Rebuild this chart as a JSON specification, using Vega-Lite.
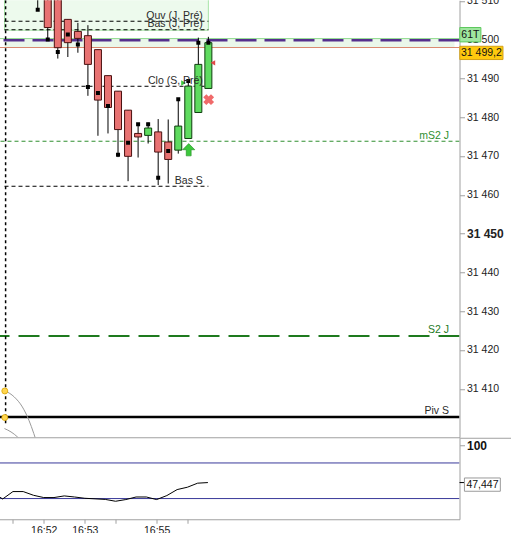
{
  "$schema": "https://vega.github.io/schema/vega-lite/v6.json",
  "padding": {"top": -4.75, "left": -0.5, "right": 0, "bottom": 0},
  "background": "white",
  "spacing": 0,
  "config": {"font": "Liberation Sans", "view": {"stroke": null}, "axis": {"grid": false}},
  "datasets": {
    "candles": [
      {"i": 0, "o": 31518, "h": 31520, "l": 31507.7, "c": 31512, "m": 31507.7, "dir": "down"},
      {"i": 1, "o": 31514, "h": 31516, "l": 31500.1, "c": 31503.1, "m": 31500.0, "dir": "down"},
      {"i": 2, "o": 31512, "h": 31514, "l": 31495.1, "c": 31497.9, "m": 31496.8, "dir": "down"},
      {"i": 3, "o": 31505.2, "h": 31505.2, "l": 31495.5, "c": 31499.2, "m": 31501.3, "dir": "down"},
      {"i": 4, "o": 31502.1, "h": 31504.3, "l": 31496.6, "c": 31500.3, "m": 31498.7, "dir": "down"},
      {"i": 5, "o": 31501.0, "h": 31503.7, "l": 31485.5, "c": 31493.6, "m": 31487.8, "dir": "down"},
      {"i": 6, "o": 31497.4, "h": 31497.4, "l": 31475.2, "c": 31484.4, "m": 31486.2, "dir": "down"},
      {"i": 7, "o": 31490.7, "h": 31490.7, "l": 31475.8, "c": 31482.5, "m": 31482.9, "dir": "down"},
      {"i": 8, "o": 31486.7, "h": 31486.7, "l": 31469.7, "c": 31476.8, "m": 31470.3, "dir": "down"},
      {"i": 9, "o": 31481.8, "h": 31481.8, "l": 31463.5, "c": 31469.9, "m": 31473.4, "dir": "down"},
      {"i": 10, "o": 31475.8, "h": 31478.2, "l": 31469.6, "c": 31474.9, "m": 31478.2, "dir": "down"},
      {"i": 11, "o": 31475.3, "h": 31478.6, "l": 31473.2, "c": 31477.2, "m": 31478.2, "dir": "up"},
      {"i": 12, "o": 31476.2, "h": 31479.5, "l": 31462.5, "c": 31471.0, "m": 31464.4, "dir": "down"},
      {"i": 13, "o": 31473.6, "h": 31479.4, "l": 31462.9, "c": 31469.1, "m": 31471.3, "dir": "down"},
      {"i": 14, "o": 31471.5, "h": 31484.6, "l": 31470.6, "c": 31477.7, "m": 31484.6, "dir": "up"},
      {"i": 15, "o": 31474.5, "h": 31489.3, "l": 31474.5, "c": 31488.0, "m": 31489.3, "dir": "up"},
      {"i": 16, "o": 31481.2, "h": 31500.5, "l": 31481.2, "c": 31493.6, "m": 31499.2, "dir": "up"},
      {"i": 17, "o": 31487.4, "h": 31500.7, "l": 31487.4, "c": 31499.2, "m": 31499.2, "dir": "up"}
    ],
    "levelsShort": [
      {"name": "Ouv (J, Pré)", "i": -3.31, "i2": 17, "p": 31504.72},
      {"name": "Bas (J, Pré)", "i": -3.31, "i2": 17, "p": 31502.53},
      {"name": "Clo (S, Pré)", "i": -3.31, "i2": 17, "p": 31487.96},
      {"name": "Bas S", "i": -3.31, "i2": 17, "p": 31462.19}
    ],
    "labels": [
      {"label": "Ouv (J, Pré)", "i": 17, "p": 31504.72, "kind": "black"},
      {"label": "Bas (J, Pré)", "i": 17, "p": 31502.53, "kind": "black"},
      {"label": "Clo (S, Pré)", "i": 17, "p": 31487.96, "kind": "black"},
      {"label": "Bas S", "i": 17, "p": 31462.19, "kind": "black"},
      {"label": "mS2 J", "i": 41.52, "p": 31473.79, "kind": "green"},
      {"label": "S2 J", "i": 41.52, "p": 31423.61, "kind": "darkgreen"},
      {"label": "Piv S", "i": 41.52, "p": 31402.73, "kind": "black"}
    ],
    "arcs": [
      {"arc": "a", "i": -3.216, "p": 31409.43},
      {"arc": "a", "i": -2.339, "p": 31407.89},
      {"arc": "a", "i": -1.53, "p": 31405.31},
      {"arc": "a", "i": -0.877, "p": 31401.88},
      {"arc": "a", "i": -0.39, "p": 31398.45},
      {"arc": "a", "i": -0.224, "p": 31397.16},
      {"arc": "b", "i": -3.314, "p": 31399.74},
      {"arc": "b", "i": -2.661, "p": 31398.87},
      {"arc": "b", "i": -2.018, "p": 31397.58},
      {"arc": "b", "i": -1.852, "p": 31397.16}
    ],
    "rsi": [
      {"i": -3.31, "v": 27.2}, {"i": -3, "v": 24.4}, {"i": -2, "v": 34.8}, {"i": -1, "v": 34.8},
      {"i": 0, "v": 29.6}, {"i": 1, "v": 26.4}, {"i": 2, "v": 26.4}, {"i": 3, "v": 28.7},
      {"i": 4, "v": 27.2}, {"i": 5, "v": 25.4}, {"i": 6, "v": 24.6}, {"i": 7, "v": 23.8},
      {"i": 8, "v": 21.2}, {"i": 9, "v": 23.6}, {"i": 10, "v": 27.2}, {"i": 11, "v": 27.2},
      {"i": 12, "v": 23.6}, {"i": 13, "v": 29.2}, {"i": 14, "v": 37.6}, {"i": 15, "v": 40.9},
      {"i": 16, "v": 46.6}, {"i": 17, "v": 47.447}
    ]
  },
  "vconcat": [
    {
      "width": 460,
      "height": 437,
      "layer": [
        {
          "data": {"values": [{"i": -3.31, "i2": 17, "p": 31515, "p2": 31502.4}]},
          "mark": {"type": "rect", "fill": "#EDFAED", "stroke": "#A8E4A8", "strokeWidth": 1, "clip": true},
          "encoding": {
            "x": {"field": "i", "type": "quantitative", "scale": {"domain": [-3.31, 41.52], "nice": false, "zero": false},
                  "axis": {"title": null, "labels": false, "ticks": false, "domain": true, "domainColor": "#A0A0A0", "grid": false}},
            "x2": {"field": "i2"},
            "y": {"field": "p", "type": "quantitative", "scale": {"domain": [31397.5, 31510.13], "nice": false, "zero": false},
                  "axis": {"title": null, "orient": "right", "values": [31410, 31420, 31430, 31440, 31450, 31460, 31470, 31480, 31490, 31500, 31510],
                           "labelExpr": "replace(format(datum.value, ',d'), ',', ' ')", "grid": false,
                           "domainColor": "#A0A0A0", "tickColor": "#A0A0A0", "tickSize": 5, "labelPadding": 2,
                           "labelColor": "#222222", "labelOverlap": false,
                           "labelFontSize": {"condition": {"test": "datum.value == 31450", "value": 12}, "value": 10.5},
                           "labelFontWeight": {"condition": {"test": "datum.value == 31450", "value": "bold"}, "value": "normal"}}},
            "y2": {"field": "p2"}
          }
        },
        {
          "data": {"values": [{"i": -3.31, "i2": 41.52, "p": 31500.25, "p2": 31497.95}]},
          "mark": {"type": "rect", "fill": "#EAF7EA", "clip": true},
          "encoding": {
            "x": {"field": "i", "type": "quantitative", "scale": {"domain": [-3.31, 41.52], "nice": false, "zero": false}},
            "x2": {"field": "i2"},
            "y": {"field": "p", "type": "quantitative", "scale": {"domain": [31397.5, 31510.13], "nice": false, "zero": false}},
            "y2": {"field": "p2"}
          }
        },
        {
          "data": {"values": [{"p": 31500.25}]},
          "mark": {"type": "rule", "color": "#8FD98F", "strokeWidth": 1, "clip": true},
          "encoding": {"y": {"field": "p", "type": "quantitative", "scale": {"domain": [31397.5, 31510.13], "nice": false, "zero": false}}}
        },
        {
          "data": {"values": [{"p": 31497.95}]},
          "mark": {"type": "rule", "color": "#D98A70", "strokeWidth": 1, "clip": true},
          "encoding": {"y": {"field": "p", "type": "quantitative", "scale": {"domain": [31397.5, 31510.13], "nice": false, "zero": false}}}
        },
        {
          "data": {"name": "levelsShort"},
          "mark": {"type": "rule", "color": "#000000", "strokeWidth": 1, "strokeDash": [4, 3], "clip": true},
          "encoding": {
            "x": {"field": "i", "type": "quantitative", "scale": {"domain": [-3.31, 41.52], "nice": false, "zero": false}},
            "x2": {"field": "i2"},
            "y": {"field": "p", "type": "quantitative", "scale": {"domain": [31397.5, 31510.13], "nice": false, "zero": false}}
          }
        },
        {
          "data": {"values": [{"p": 31473.79}]},
          "mark": {"type": "rule", "color": "#2F8F2F", "strokeWidth": 1, "strokeDash": [4, 3], "clip": true},
          "encoding": {"y": {"field": "p", "type": "quantitative", "scale": {"domain": [31397.5, 31510.13], "nice": false, "zero": false}}}
        },
        {
          "data": {"values": [{"p": 31423.61}]},
          "mark": {"type": "rule", "color": "#1E7A1E", "strokeWidth": 2, "strokeDash": [21, 9], "clip": true},
          "encoding": {"y": {"field": "p", "type": "quantitative", "scale": {"domain": [31397.5, 31510.13], "nice": false, "zero": false}}}
        },
        {
          "data": {"values": [{"p": 31402.73}]},
          "mark": {"type": "rule", "color": "#000000", "strokeWidth": 2.5, "clip": true},
          "encoding": {"y": {"field": "p", "type": "quantitative", "scale": {"domain": [31397.5, 31510.13], "nice": false, "zero": false}}}
        },
        {
          "data": {"values": [{"p": 31499.82}]},
          "mark": {"type": "rule", "color": "#55308D", "strokeWidth": 2.5, "strokeDash": [21, 8], "clip": true},
          "encoding": {"y": {"field": "p", "type": "quantitative", "scale": {"domain": [31397.5, 31510.13], "nice": false, "zero": false}}}
        },
        {
          "data": {"values": [{"i": -3.2, "p": 31401.1, "p2": 31512}]},
          "mark": {"type": "rule", "color": "#000000", "strokeWidth": 1.5, "strokeDash": [3, 3], "clip": true},
          "encoding": {
            "x": {"field": "i", "type": "quantitative", "scale": {"domain": [-3.31, 41.52], "nice": false, "zero": false}},
            "y": {"field": "p", "type": "quantitative", "scale": {"domain": [31397.5, 31510.13], "nice": false, "zero": false}},
            "y2": {"field": "p2"}
          }
        },
        {
          "data": {"name": "arcs"},
          "mark": {"type": "line", "color": "#9A9A9A", "strokeWidth": 1, "interpolate": "monotone", "clip": true},
          "encoding": {
            "x": {"field": "i", "type": "quantitative", "scale": {"domain": [-3.31, 41.52], "nice": false, "zero": false}},
            "y": {"field": "p", "type": "quantitative", "scale": {"domain": [31397.5, 31510.13], "nice": false, "zero": false}},
            "detail": {"field": "arc", "type": "nominal"}
          }
        },
        {
          "data": {"values": [{"i": -3.28, "p": 31409.43}, {"i": -3.28, "p": 31402.58}]},
          "mark": {"type": "point", "filled": true, "fill": "#FFD54F", "stroke": "#D9A400", "strokeWidth": 0.8, "size": 36, "opacity": 1, "clip": true},
          "encoding": {
            "x": {"field": "i", "type": "quantitative", "scale": {"domain": [-3.31, 41.52], "nice": false, "zero": false}},
            "y": {"field": "p", "type": "quantitative", "scale": {"domain": [31397.5, 31510.13], "nice": false, "zero": false}}
          }
        },
        {
          "data": {"name": "candles"},
          "mark": {"type": "rule", "color": "#000000", "strokeWidth": 1, "clip": true},
          "encoding": {
            "x": {"field": "i", "type": "quantitative", "scale": {"domain": [-3.31, 41.52], "nice": false, "zero": false}},
            "y": {"field": "l", "type": "quantitative", "scale": {"domain": [31397.5, 31510.13], "nice": false, "zero": false}},
            "y2": {"field": "h"}
          }
        },
        {
          "data": {"name": "candles"},
          "mark": {"type": "bar", "width": 7, "strokeWidth": 1, "clip": true, "opacity": 1},
          "encoding": {
            "x": {"field": "i", "type": "quantitative", "scale": {"domain": [-3.31, 41.52], "nice": false, "zero": false}},
            "y": {"field": "o", "type": "quantitative", "scale": {"domain": [31397.5, 31510.13], "nice": false, "zero": false}},
            "y2": {"field": "c"},
            "fill": {"field": "dir", "type": "nominal", "scale": {"domain": ["up", "down"], "range": ["#5FDB5F", "#E87272"]}, "legend": null},
            "stroke": {"field": "dir", "type": "nominal", "scale": {"domain": ["up", "down"], "range": ["#0F3F0F", "#4A1010"]}, "legend": null}
          }
        },
        {
          "data": {"name": "candles"},
          "mark": {"type": "point", "shape": "square", "filled": true, "color": "#000000", "size": 16, "opacity": 1, "clip": true},
          "encoding": {
            "x": {"field": "i", "type": "quantitative", "scale": {"domain": [-3.31, 41.52], "nice": false, "zero": false}},
            "y": {"field": "m", "type": "quantitative", "scale": {"domain": [31397.5, 31510.13], "nice": false, "zero": false}}
          }
        },
        {
          "data": {"values": [{"i": 15.04, "p": 31471.6}]},
          "mark": {"type": "point", "shape": "M0,-1L1,0L0.4,0L0.4,1L-0.4,1L-0.4,0L-1,0Z", "filled": true, "fill": "#3CC83C", "stroke": "#1E8C1E", "strokeWidth": 0.6, "size": 150, "opacity": 1},
          "encoding": {
            "x": {"field": "i", "type": "quantitative", "scale": {"domain": [-3.31, 41.52], "nice": false, "zero": false}},
            "y": {"field": "p", "type": "quantitative", "scale": {"domain": [31397.5, 31510.13], "nice": false, "zero": false}}
          }
        },
        {
          "data": {"values": [{"i": 17.03, "p": 31484.5}]},
          "mark": {"type": "point", "shape": "cross", "angle": 45, "filled": true, "fill": "#F06A6A", "size": 120, "opacity": 1},
          "encoding": {
            "x": {"field": "i", "type": "quantitative", "scale": {"domain": [-3.31, 41.52], "nice": false, "zero": false}},
            "y": {"field": "p", "type": "quantitative", "scale": {"domain": [31397.5, 31510.13], "nice": false, "zero": false}}
          }
        },
        {
          "data": {"values": [{"i": 17.45, "p": 31494.0}]},
          "mark": {"type": "point", "shape": "triangle-left", "filled": true, "fill": "#E04848", "size": 28, "opacity": 1},
          "encoding": {
            "x": {"field": "i", "type": "quantitative", "scale": {"domain": [-3.31, 41.52], "nice": false, "zero": false}},
            "y": {"field": "p", "type": "quantitative", "scale": {"domain": [31397.5, 31510.13], "nice": false, "zero": false}}
          }
        },
        {
          "data": {"values": [{"i": 14.52, "p": 31488.8}]},
          "mark": {"type": "point", "shape": "triangle-right", "filled": true, "fill": "#3CC83C", "size": 28, "opacity": 1},
          "encoding": {
            "x": {"field": "i", "type": "quantitative", "scale": {"domain": [-3.31, 41.52], "nice": false, "zero": false}},
            "y": {"field": "p", "type": "quantitative", "scale": {"domain": [31397.5, 31510.13], "nice": false, "zero": false}}
          }
        },
        {
          "data": {"name": "labels"},
          "mark": {"type": "text", "align": "right", "baseline": "alphabetic", "dx": -5.5, "dy": -2.5, "fontSize": 10.5},
          "encoding": {
            "x": {"field": "i", "type": "quantitative", "scale": {"domain": [-3.31, 41.52], "nice": false, "zero": false}},
            "y": {"field": "p", "type": "quantitative", "scale": {"domain": [31397.5, 31510.13], "nice": false, "zero": false}},
            "text": {"field": "label"},
            "color": {"field": "kind", "type": "nominal", "scale": {"domain": ["black", "green", "darkgreen"], "range": ["#2A2A2A", "#2F8F2F", "#1E7A1E"]}, "legend": null}
          }
        },
        {
          "data": {"values": [{"i": 42.05, "i2": 44.15, "p": 31503.1, "p2": 31499.4}]},
          "mark": {"type": "rect", "fill": "#9FE69F", "stroke": "#5CC85C", "strokeWidth": 1},
          "encoding": {
            "x": {"field": "i", "type": "quantitative", "scale": {"domain": [-3.31, 41.52], "nice": false, "zero": false}},
            "x2": {"field": "i2"},
            "y": {"field": "p", "type": "quantitative", "scale": {"domain": [31397.5, 31510.13], "nice": false, "zero": false}},
            "y2": {"field": "p2"}
          }
        },
        {
          "data": {"values": [{"i": 42.05, "i2": 46.35, "p": 31498.27, "p2": 31494.85}]},
          "mark": {"type": "rect", "fill": "#FFC90E", "stroke": "#D4A017", "strokeWidth": 1},
          "encoding": {
            "x": {"field": "i", "type": "quantitative", "scale": {"domain": [-3.31, 41.52], "nice": false, "zero": false}},
            "x2": {"field": "i2"},
            "y": {"field": "p", "type": "quantitative", "scale": {"domain": [31397.5, 31510.13], "nice": false, "zero": false}},
            "y2": {"field": "p2"}
          }
        },
        {
          "data": {"values": [{"t": "61T", "i": 43.1, "p": 31501.25}, {"t": "31 499,2", "i": 44.2, "p": 31496.56}]},
          "mark": {"type": "text", "align": "center", "baseline": "middle", "fontSize": 10.5, "color": "#111111"},
          "encoding": {
            "x": {"field": "i", "type": "quantitative", "scale": {"domain": [-3.31, 41.52], "nice": false, "zero": false}},
            "y": {"field": "p", "type": "quantitative", "scale": {"domain": [31397.5, 31510.13], "nice": false, "zero": false}},
            "text": {"field": "t"}
          }
        }
      ]
    },
    {
      "width": 460,
      "height": 81,
      "layer": [
        {
          "data": {"values": [{"v": 75}, {"v": 25}]},
          "mark": {"type": "rule", "color": "#3A3A9A", "strokeWidth": 1, "clip": true},
          "encoding": {
            "y": {"field": "v", "type": "quantitative", "scale": {"domain": [-4.07, 109.7], "nice": false, "zero": false},
                  "axis": {"title": null, "orient": "right", "values": [100], "grid": false, "domainColor": "#A0A0A0", "tickColor": "#A0A0A0",
                           "tickSize": 5, "labelPadding": 2, "labelColor": "#111111", "labelFontSize": 12, "labelFontWeight": "bold", "labelOverlap": false}}
          }
        },
        {
          "data": {"name": "rsi"},
          "mark": {"type": "line", "color": "#000000", "strokeWidth": 1, "clip": true},
          "encoding": {
            "x": {"field": "i", "type": "quantitative", "scale": {"domain": [-3.31, 41.52], "nice": false, "zero": false},
                  "axis": {"title": null, "orient": "bottom", "values": [-2, 1, 5, 8, 12, 15],
                           "labelExpr": "datum.value == 1 ? '16:52' : datum.value == 5 ? '16:53' : datum.value == 12 ? '16:55' : ''",
                           "grid": false, "domainColor": "#A0A0A0", "tickColor": "#A0A0A0", "tickSize": 4, "labelPadding": 2,
                           "labelColor": "#222222", "labelFontSize": 10.5, "labelFlush": false, "labelOverlap": false}},
            "y": {"field": "v", "type": "quantitative", "scale": {"domain": [-4.07, 109.7], "nice": false, "zero": false}}
          }
        },
        {
          "data": {"values": [{"i": 41.52, "i2": 47, "v": 109.7}]},
          "mark": {"type": "rule", "color": "#A0A0A0", "strokeWidth": 1},
          "encoding": {
            "x": {"field": "i", "type": "quantitative", "scale": {"domain": [-3.31, 41.52], "nice": false, "zero": false}},
            "x2": {"field": "i2"},
            "y": {"field": "v", "type": "quantitative", "scale": {"domain": [-4.07, 109.7], "nice": false, "zero": false}}
          }
        },
        {
          "data": {"values": [{"i": 41.52, "i2": 42.0, "v": 47.447}]},
          "mark": {"type": "rule", "color": "#000000", "strokeWidth": 1},
          "encoding": {
            "x": {"field": "i", "type": "quantitative", "scale": {"domain": [-3.31, 41.52], "nice": false, "zero": false}},
            "x2": {"field": "i2"},
            "y": {"field": "v", "type": "quantitative", "scale": {"domain": [-4.07, 109.7], "nice": false, "zero": false}}
          }
        },
        {
          "data": {"values": [{"i": 42.0, "i2": 45.5, "v": 53.9, "v2": 35.25}]},
          "mark": {"type": "rect", "fill": "#FFFFFF", "stroke": "#9A9A9A", "strokeWidth": 1},
          "encoding": {
            "x": {"field": "i", "type": "quantitative", "scale": {"domain": [-3.31, 41.52], "nice": false, "zero": false}},
            "x2": {"field": "i2"},
            "y": {"field": "v", "type": "quantitative", "scale": {"domain": [-4.07, 109.7], "nice": false, "zero": false}},
            "y2": {"field": "v2"}
          }
        },
        {
          "data": {"values": [{"t": "47,447", "i": 43.76, "v": 44.6}]},
          "mark": {"type": "text", "align": "center", "baseline": "middle", "fontSize": 10.5, "color": "#111111"},
          "encoding": {
            "x": {"field": "i", "type": "quantitative", "scale": {"domain": [-3.31, 41.52], "nice": false, "zero": false}},
            "y": {"field": "v", "type": "quantitative", "scale": {"domain": [-4.07, 109.7], "nice": false, "zero": false}},
            "text": {"field": "t"}
          }
        }
      ]
    }
  ]
}
